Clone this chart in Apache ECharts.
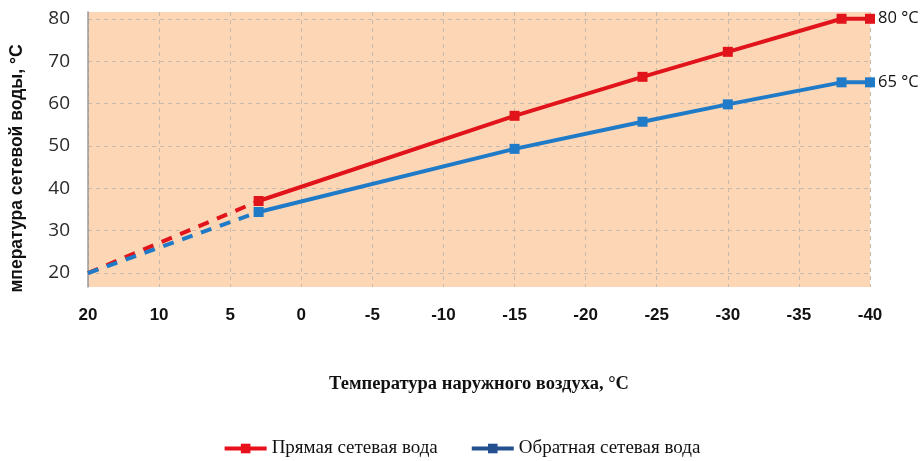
<!DOCTYPE html>
<html>
<head>
<meta charset="utf-8">
<script src="https://cdn.jsdelivr.net/npm/echarts@6/dist/echarts.min.js"></script>
<style>
  html, body { margin: 0; padding: 0; background: #fff; }
  #chart { width: 923px; height: 461px; }
</style>
</head>
<body>
<div id="chart"></div>
<script>
// позиция 15 на оси подписана как "20" (шаг 20 -> 10 на графике такой же, как 5)
const xTop = 15
const xTopLabel = '20'
const yTicks = [20, 30, 40, 50, 60, 70, 80]

const outdoorTemp = [3, -15, -24, -30, -38, -40]
const supplyTemp = [37, 57.1, 66.3, 72.2, 80, 80]
const returnTemp = [34.4, 49.3, 55.7, 59.8, 65, 65]

const dashX = [xTop, 3]
const supplyDash = [20, 37]
const returnDash = [20, 34.4]

const red = '#e1141c'
const blue = '#1f7bc7'

const pairs = (xs, ys) => xs.map((x, i) => [x, ys[i]])

const myChart = echarts.init(document.getElementById('chart'), null, { renderer: 'canvas' })

const endLabel = (text) => ({
	show: true,
	position: 'right',
	distance: 3,
	formatter: (p) => (p.dataIndex === outdoorTemp.length - 1 ? text : ''),
	color: '#111',
	fontSize: 16.5,
	fontFamily: 'Open Sans, Liberation Sans, sans-serif',
})

let option = {
	animation: false,
	grid: {
		left: 86,
		right: 53,
		top: 12,
		bottom: 174,
		show: true,
		backgroundColor: '#fdd6b6',
		borderWidth: 0,
	},
	legend: {
		top: 434,
		left: 'center',
		itemWidth: 42,
		itemHeight: 12,
		itemGap: 32,
		textStyle: { fontFamily: 'Liberation Serif, serif', fontSize: 19, color: '#111' },
		data: [
			{ name: 'Прямая сетевая вода', itemStyle: { color: '#e8101a' }, lineStyle: { color: '#e8101a', width: 4 } },
			{ name: 'Обратная сетевая вода', itemStyle: { color: '#24508f' }, lineStyle: { color: '#24508f', width: 4 } },
		],
	},
	xAxis: {
		type: 'value',
		inverse: true,
		min: -40,
		max: xTop,
		interval: 5,
		name: 'Температура наружного воздуха, °C',
		nameLocation: 'middle',
		nameGap: 88,
		nameTextStyle: { fontFamily: 'Liberation Serif, serif', fontWeight: 'bold', fontSize: 18.5, color: '#111' },
		axisLine: { show: false },
		axisTick: { show: false },
		axisLabel: {
			margin: 20,
			fontFamily: 'Liberation Sans Narrow, Arial Narrow, Liberation Sans, sans-serif',
			fontWeight: 'bold',
			fontSize: 17,
			color: '#111',
			formatter: (v) => (v === xTop ? xTopLabel : String(v)),
		},
		splitLine: { show: true, lineStyle: { color: '#c9b9ab', type: [4, 4], width: 1 } },
	},
	yAxis: {
		type: 'value',
		min: 16.7,
		max: 81.6,
		name: 'мпература сетевой воды, °C',
		nameLocation: 'middle',
		nameGap: 62,
		nameTextStyle: {
			fontFamily: 'Liberation Sans, Arial, sans-serif',
			fontWeight: 'bold',
			fontSize: 17.5,
			color: '#111',
			padding: [0, 38, 0, 0],
		},
		axisLine: { show: true, onZero: false, lineStyle: { color: '#9a9a9a', width: 1.5 } },
		axisTick: { show: false, customValues: yTicks },
		axisLabel: {
			margin: 18,
			customValues: yTicks,
			fontFamily: 'Open Sans, Liberation Sans, sans-serif',
			fontSize: 19,
			color: '#2a2a2a',
		},
		splitLine: { show: true, lineStyle: { color: '#c9b9ab', type: [4, 4], width: 1 } },
	},
	series: [
		{
			name: 'Прямая сетевая вода',
			type: 'line',
			data: pairs(outdoorTemp, supplyTemp),
			symbol: 'rect',
			symbolSize: 10,
			color: red,
			lineStyle: { color: red, width: 4 },
			itemStyle: { color: red },
			label: endLabel('80 °C'),
			z: 3,
		},
		{
			name: 'Обратная сетевая вода',
			type: 'line',
			data: pairs(outdoorTemp, returnTemp),
			symbol: 'rect',
			symbolSize: 10,
			color: blue,
			lineStyle: { color: blue, width: 4 },
			itemStyle: { color: blue },
			label: endLabel('65 °C'),
			z: 3,
		},
		{
			name: 'supplyDash',
			type: 'line',
			data: pairs(dashX, supplyDash),
			showSymbol: false,
			lineStyle: { color: red, width: 4, type: [11, 9] },
			z: 2,
		},
		{
			name: 'returnDash',
			type: 'line',
			data: pairs(dashX, returnDash),
			showSymbol: false,
			lineStyle: { color: blue, width: 4, type: [11, 9] },
			z: 2,
		},
	],
}
myChart.setOption(option)

window.addEventListener('resize', () => {
	myChart.resize()
})
</script>
</body>
</html>
